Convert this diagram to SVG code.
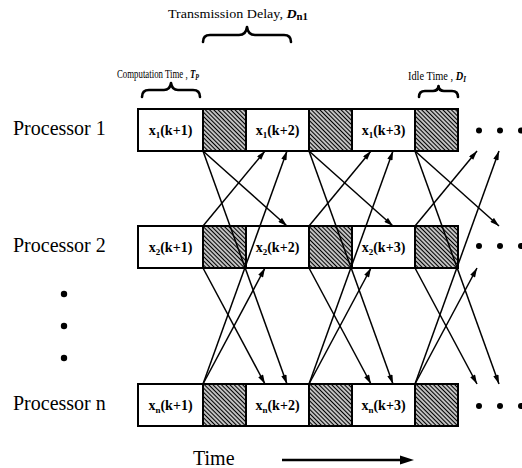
<svg xmlns="http://www.w3.org/2000/svg" width="522" height="468" viewBox="0 0 522 468">
  <style>
    .lbl { font-family: "Liberation Serif", "Times New Roman", serif; font-size: 20px; fill: #000; }
    .cell { font-family: "Liberation Serif", "Times New Roman", serif; font-size: 14px; font-weight: bold; fill: #000; text-anchor: middle; }
    .note { font-family: "Liberation Serif", "Times New Roman", serif; font-size: 13px; fill: #000; }
    .box { fill: #fff; stroke: #000; stroke-width: 2; }
    .idle { fill: url(#hatch); stroke: #000; stroke-width: 2; }
    .link { fill: none; stroke: #000; stroke-width: 1.5; marker-end: url(#head); }
    .brace { fill: none; stroke: #000; stroke-width: 2.6; stroke-linecap: round; stroke-linejoin: round; }
    .dot { fill: #000; }
  </style>
  <defs>
    <pattern id="hatch" patternUnits="userSpaceOnUse" width="3" height="3" patternTransform="rotate(-45)">
      <rect width="3" height="3" fill="#fff"/>
      <line x1="1.5" y1="0" x2="1.5" y2="3" stroke="#000" stroke-width="1.5"/>
    </pattern>
    <marker id="head" viewBox="0 0 10 6" refX="10" refY="3" markerWidth="10" markerHeight="5.5" markerUnits="userSpaceOnUse" orient="auto">
      <path d="M0,0 L10,3 L0,6 z" fill="#000"/>
    </marker>
  </defs>

  <!-- annotations above the timeline -->
  <g id="label-transmission">
    <text class="note" x="168" y="18" textLength="140" lengthAdjust="spacingAndGlyphs">Transmission Delay, <tspan font-style="italic" font-weight="bold">D</tspan><tspan font-size="10" font-weight="bold" dy="2">n1</tspan></text>
    <path class="brace" d="M203,42 Q203,35 210,35 L239,35 Q246,35 247,27 Q248,35 255,35 L284,35 Q291,35 291,42"/>
  </g>
  <g id="label-computation">
    <text class="note" x="117" y="78" textLength="82" lengthAdjust="spacingAndGlyphs">Computation Time , <tspan font-style="italic" font-weight="bold">T</tspan><tspan font-size="9" font-style="italic" font-weight="bold" dy="2">P</tspan></text>
    <path class="brace" d="M142,97 Q142,90 149,90 L164,90 Q170,90 171,83 Q172,90 178,90 L193,90 Q200,90 200,97"/>
  </g>
  <g id="label-idle">
    <text class="note" x="408" y="80" textLength="58" lengthAdjust="spacingAndGlyphs">Idle Time , <tspan font-style="italic" font-weight="bold">D</tspan><tspan font-size="9" font-style="italic" font-weight="bold" dy="2">I</tspan></text>
    <path class="brace" d="M419,97 Q419,91 425,91 L433,91 Q438,91 438.5,86 Q439,91 444,91 L452,91 Q458,91 458,97"/>
  </g>

  <!-- processor 1 -->
  <g id="processor-1">
    <text class="lbl" x="13" y="135">Processor 1</text>
    <rect class="box" x="138" y="109" width="65" height="42"/>
    <rect class="idle" x="203" y="109" width="43" height="42"/>
    <rect class="box" x="246" y="109" width="63" height="42"/>
    <rect class="idle" x="309" y="109" width="43" height="42"/>
    <rect class="box" x="352" y="109" width="63" height="42"/>
    <rect class="idle" x="415" y="109" width="43" height="42"/>
    <text class="cell" x="170.5" y="135">x<tspan font-size="9" dy="3">1</tspan><tspan dy="-3">(k+1)</tspan></text>
    <text class="cell" x="277.5" y="135">x<tspan font-size="9" dy="3">1</tspan><tspan dy="-3">(k+2)</tspan></text>
    <text class="cell" x="383.5" y="135">x<tspan font-size="9" dy="3">1</tspan><tspan dy="-3">(k+3)</tspan></text>
    <circle class="dot" cx="479" cy="130.5" r="3"/>
    <circle class="dot" cx="500" cy="130.5" r="3"/>
    <circle class="dot" cx="521" cy="130.5" r="3"/>
  </g>

  <!-- processor 2 -->
  <g id="processor-2">
    <text class="lbl" x="13" y="252">Processor 2</text>
    <rect class="box" x="138" y="226" width="65" height="42"/>
    <rect class="idle" x="203" y="226" width="43" height="42"/>
    <rect class="box" x="246" y="226" width="63" height="42"/>
    <rect class="idle" x="309" y="226" width="43" height="42"/>
    <rect class="box" x="352" y="226" width="63" height="42"/>
    <rect class="idle" x="415" y="226" width="43" height="42"/>
    <text class="cell" x="170.5" y="252">x<tspan font-size="9" dy="3">2</tspan><tspan dy="-3">(k+1)</tspan></text>
    <text class="cell" x="277.5" y="252">x<tspan font-size="9" dy="3">2</tspan><tspan dy="-3">(k+2)</tspan></text>
    <text class="cell" x="383.5" y="252">x<tspan font-size="9" dy="3">2</tspan><tspan dy="-3">(k+3)</tspan></text>
    <circle class="dot" cx="479" cy="246" r="3"/>
    <circle class="dot" cx="500" cy="246" r="3"/>
    <circle class="dot" cx="521" cy="246" r="3"/>
  </g>

  <!-- vertical ellipsis between processor 2 and processor n -->
  <g id="more-processors">
    <circle class="dot" cx="64" cy="294" r="3.2"/>
    <circle class="dot" cx="64" cy="326" r="3.2"/>
    <circle class="dot" cx="64" cy="358" r="3.2"/>
  </g>

  <!-- processor n -->
  <g id="processor-n">
    <text class="lbl" x="13" y="410">Processor n</text>
    <rect class="box" x="138" y="384" width="65" height="42"/>
    <rect class="idle" x="203" y="384" width="43" height="42"/>
    <rect class="box" x="246" y="384" width="63" height="42"/>
    <rect class="idle" x="309" y="384" width="43" height="42"/>
    <rect class="box" x="352" y="384" width="63" height="42"/>
    <rect class="idle" x="415" y="384" width="43" height="42"/>
    <text class="cell" x="170.5" y="410">x<tspan font-size="9" dy="3">n</tspan><tspan dy="-3">(k+1)</tspan></text>
    <text class="cell" x="277.5" y="410">x<tspan font-size="9" dy="3">n</tspan><tspan dy="-3">(k+2)</tspan></text>
    <text class="cell" x="383.5" y="410">x<tspan font-size="9" dy="3">n</tspan><tspan dy="-3">(k+3)</tspan></text>
    <circle class="dot" cx="479" cy="406" r="3"/>
    <circle class="dot" cx="500" cy="406" r="3"/>
    <circle class="dot" cx="521" cy="406" r="3"/>
  </g>

  <!-- message transfers: each step's result is sent to every other processor -->
  <g id="connectors">
    <!-- step k+1, sent at x=203 -->
    <line class="link" x1="203" y1="151" x2="287" y2="226"/>
    <line class="link" x1="203" y1="226" x2="265" y2="151"/>
    <line class="link" x1="203" y1="151" x2="287" y2="384"/>
    <line class="link" x1="203" y1="384" x2="287" y2="151"/>
    <line class="link" x1="203" y1="268" x2="265" y2="384"/>
    <line class="link" x1="203" y1="384" x2="265" y2="268"/>
    <!-- step k+2, sent at x=309 -->
    <line class="link" x1="309" y1="151" x2="393" y2="226"/>
    <line class="link" x1="309" y1="226" x2="371" y2="151"/>
    <line class="link" x1="309" y1="151" x2="393" y2="384"/>
    <line class="link" x1="309" y1="384" x2="393" y2="151"/>
    <line class="link" x1="309" y1="268" x2="371" y2="384"/>
    <line class="link" x1="309" y1="384" x2="371" y2="268"/>
    <!-- step k+3, sent at x=415 -->
    <line class="link" x1="415" y1="151" x2="499" y2="226"/>
    <line class="link" x1="415" y1="226" x2="477" y2="151"/>
    <line class="link" x1="415" y1="151" x2="499" y2="384"/>
    <line class="link" x1="415" y1="384" x2="499" y2="151"/>
    <line class="link" x1="415" y1="268" x2="477" y2="384"/>
    <line class="link" x1="415" y1="384" x2="477" y2="268"/>
  </g>

  <!-- time axis -->
  <g id="time-axis">
    <text class="lbl" x="193" y="465">Time</text>
    <line x1="282" y1="460" x2="402" y2="460" stroke="#000" stroke-width="2.5"/>
    <path d="M400,455.5 L414,460 L400,464.5 z" fill="#000"/>
  </g>
</svg>
